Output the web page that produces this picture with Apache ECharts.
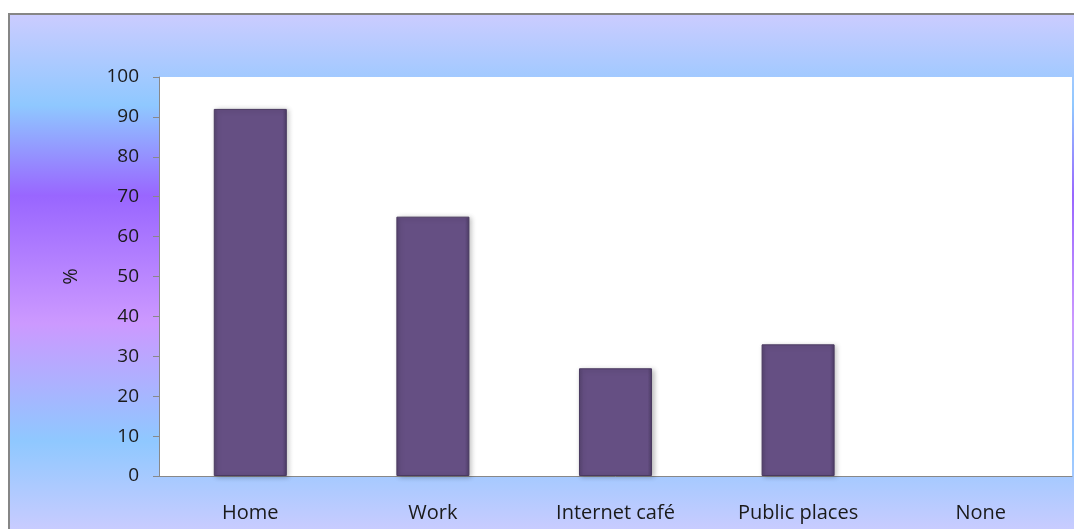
<!DOCTYPE html>
<html>
<head>
<meta charset="utf-8">
<script src="https://cdn.jsdelivr.net/npm/echarts@6/dist/echarts.min.js"></script>
<style>
  html, body { margin: 0; padding: 0; background: #ffffff; }
  #chart { width: 1074px; height: 529px; }
</style>
</head>
<body>
<div id="chart"></div>
<script>
const categories = ['Home', 'Work', 'Internet café', 'Public places', 'None'];
const values = [92, 65, 27, 33, 0];
const yTicks = { min: 0, max: 100, interval: 10 };
const axisName = '%';

const chart = echarts.init(document.getElementById('chart'), null, { renderer: 'canvas' });
const font = '"Open Sans", "Noto Sans", sans-serif';

const barData = values.map(v => v === 0
  ? { value: v, itemStyle: { borderWidth: 0, shadowBlur: 0, opacity: 0 } }
  : v);

chart.setOption({
  animation: false,
  graphic: [{
    type: 'rect',
    z: -100,
    silent: true,
    shape: { x: 9, y: 14, width: 1070, height: 520 },
    style: {
      fill: new echarts.graphic.LinearGradient(0, 0, 0, 1, [
        { offset: 0, color: '#ccccff' },
        { offset: 0.177, color: '#8fc8ff' },
        { offset: 0.35, color: '#9966ff' },
        { offset: 0.594, color: '#cc99ff' },
        { offset: 0.82, color: '#8fc8ff' },
        { offset: 1, color: '#ccccff' }
      ]),
      stroke: '#868686',
      lineWidth: 2
    }
  }],
  grid: {
    left: 159, top: 77, right: 2, bottom: 53,
    show: true, backgroundColor: '#ffffff', borderWidth: 0
  },
  xAxis: {
    type: 'category',
    data: categories,
    axisLine: { show: true, lineStyle: { color: '#888888', width: 1 } },
    axisTick: { show: false },
    axisLabel: { color: '#1a1a1a', fontSize: 20, fontFamily: font, margin: 27 }
  },
  yAxis: {
    type: 'value',
    min: yTicks.min, max: yTicks.max, interval: yTicks.interval,
    name: axisName,
    nameLocation: 'middle',
    nameGap: 78,
    nameRotate: 90,
    nameTextStyle: { color: '#1a1a1a', fontSize: 20, fontFamily: font },
    axisLine: { show: true, lineStyle: { color: '#888888', width: 1 } },
    axisTick: { show: true, length: 6, lineStyle: { color: '#888888' } },
    splitLine: { show: false },
    axisLabel: { color: '#1a1a1a', fontSize: 19, fontFamily: font, margin: 20 }
  },
  series: [{
    type: 'bar',
    data: barData,
    barWidth: '40%',
    itemStyle: {
      color: new echarts.graphic.LinearGradient(0, 0, 1, 0, [
        { offset: 0, color: '#574470' },
        { offset: 0.06, color: '#654f83' },
        { offset: 0.94, color: '#654f83' },
        { offset: 1, color: '#4e3d66' }
      ]),
      borderColor: '#4a3a60',
      borderWidth: 1,
      shadowColor: 'rgba(0,0,0,0.25)',
      shadowBlur: 5,
      shadowOffsetX: 2,
      shadowOffsetY: 1
    }
  }]
});
</script>
</body>
</html>
